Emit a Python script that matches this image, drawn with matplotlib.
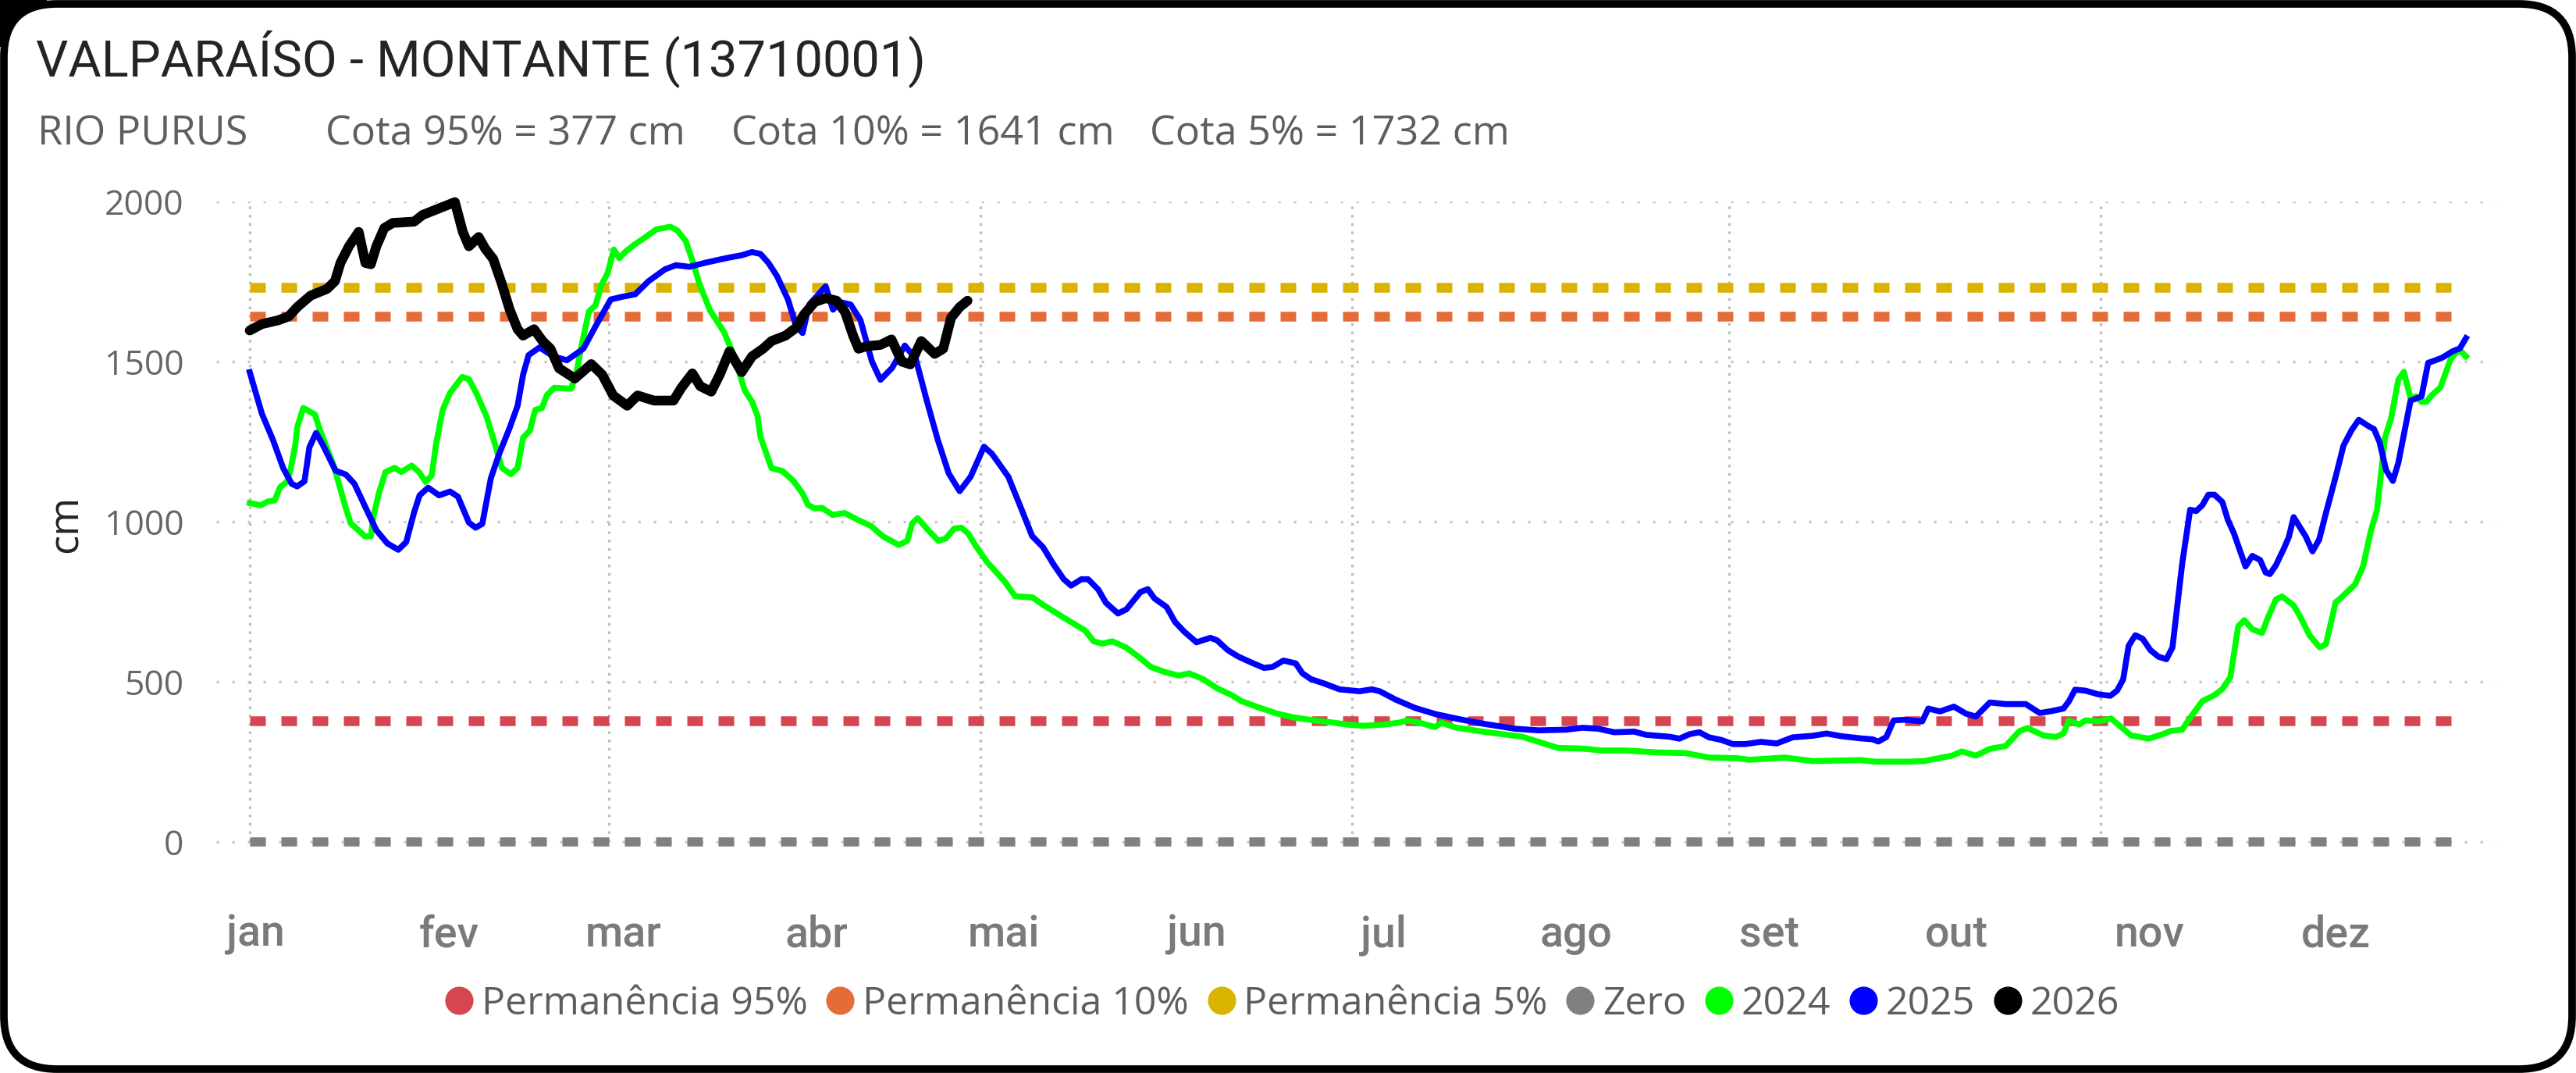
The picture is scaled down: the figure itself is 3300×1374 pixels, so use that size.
import matplotlib
matplotlib.use('Agg')
import matplotlib.pyplot as plt
from matplotlib.lines import Line2D
from matplotlib.patches import FancyBboxPatch, Rectangle
import numpy as np

# station levels (cm)
cota_95 = 377
cota_10 = 1641
cota_5 = 1732
zero = 0

month_labels = ['jan', 'fev', 'mar', 'abr', 'mai', 'jun',
                'jul', 'ago', 'set', 'out', 'nov', 'dez']
month_days = [31, 28, 31, 30, 31, 30, 31, 31, 30, 31, 30, 31]

# day of year (0 = 1 jan) and level in cm
days_2026 = [0, 2, 4.7, 6.4, 7.8, 10, 12.7, 14, 14.9, 16.3, 17.9, 19, 19.9, 20.8, 22.1, 23.5,
             27, 28.4, 33.7, 35, 36, 37.6, 38.7, 40, 41.4, 42.7, 44, 44.9, 46.7, 48.1, 49.4,
             50.8, 53.4, 56.1, 57.9, 59.7, 62, 63.7, 66.4, 69.6, 70.9, 72.7, 74, 75.8, 77.2,
             78.8, 80.8, 82.5, 84.3, 85.7, 88, 89.7, 91, 92.8, 94.6, 96.4, 97.8, 99.1, 100,
             101.3, 103.6, 105.4, 107.1, 108.5, 110.3, 112.5, 113.9, 115.2, 116.6, 117.9]
cm_2026 = [1597, 1617, 1629, 1641, 1670, 1706, 1727, 1751, 1808, 1860, 1905, 1808, 1804, 1860,
           1917, 1933, 1937, 1958, 1998, 1905, 1860, 1889, 1852, 1820, 1743, 1662, 1601, 1581,
           1601, 1564, 1540, 1479, 1447, 1492, 1459, 1394, 1362, 1394, 1378, 1378, 1418, 1463,
           1423, 1406, 1459, 1532, 1467, 1516, 1540, 1564, 1581, 1605, 1646, 1686, 1698, 1690,
           1654, 1581, 1540, 1548, 1552, 1569, 1500, 1491, 1564, 1524, 1540, 1637, 1670, 1690]

days_2025 = [0, 2, 3.8, 5.5, 6.9, 7.8, 9, 9.8, 10.9, 12, 14.1, 15.8, 17.2, 19, 20.8, 22.6, 24.4,
             25.7, 27, 27.9, 29.3, 31.1, 32.9, 34.2, 36, 37.1, 38.2, 39.6, 40.9, 42.7, 44, 44.9,
             45.8, 47.6, 49.9, 52.1, 54.8, 57, 59.3, 61.1, 63.3, 65.5, 68.2, 70, 72.2, 74.9,
             78.5, 80.8, 82.5, 83.9, 85.2, 86.6, 88.4, 89.7, 90.8, 91.9, 94.6, 95.8, 96.9, 98.7,
             100.3, 102.2, 103.6, 105.5, 107.6, 109.4, 111.2, 113, 114.8, 116.6, 118.4, 120.6,
             121.9, 124.6, 126.9, 128.5, 130.3, 132, 133.7, 134.9, 136.6, 137.7, 139.4, 140.6,
             142.6, 144, 146.3, 147.5, 148.6, 150.6, 152, 153.5, 155.5, 157.8, 158.9, 160.6,
             162.3, 164.6, 166.6, 168, 169.8, 171.8, 172.9, 174.3, 176.5, 179, 182.3, 184.3,
             185.6, 188.2, 191.4, 194.7, 198.6, 202.5, 207.8, 211.7, 216.2, 218.9, 221.5, 224.1,
             227.4, 229.3, 233.2, 234.8, 236.5, 238.1, 239.7, 241.7, 243.6, 245.6, 248.2, 250.8,
             253.4, 256.7, 259, 261.3, 264.5, 266.5, 267.5, 268.8, 270, 271.8, 274.7, 275.7,
             277.6, 279.9, 281.9, 283.5, 285.8, 288.4, 291.7, 294, 295.9, 297.9, 298.8, 299.8,
             301.5, 303.7, 305.6, 306.7, 307.7, 308.6, 309.7, 310.9, 312.2, 313.5, 314.8, 315.8,
             317.4, 318.7, 319.7, 320.7, 321.7, 322.7, 324, 324.9, 325.9, 327.8, 328.9, 330.2,
             331.1, 331.8, 332.8, 334.1, 334.9, 335.7, 337.7, 338.8, 339.9, 340.9, 342.6, 343.9,
             345.2, 346.4, 348.1, 348.9, 349.8, 350.9, 352, 352.9, 354.9, 356.7, 357.8, 359,
             360.1, 361.8, 363, 364]
cm_2025 = [1467, 1337, 1256, 1167, 1118, 1110, 1126, 1232, 1277, 1240, 1159, 1147, 1118, 1045,
           973, 932, 912, 936, 1029, 1082, 1106, 1082, 1094, 1078, 997, 981, 993, 1135, 1208,
           1293, 1362, 1459, 1520, 1544, 1516, 1504, 1540, 1617, 1694, 1702, 1710, 1751, 1788,
           1801, 1796, 1809, 1824, 1832, 1842, 1836, 1808, 1767, 1694, 1613, 1589, 1678, 1735,
           1662, 1686, 1678, 1630, 1500, 1443, 1480, 1550, 1508, 1378, 1256, 1151, 1095, 1140,
           1234, 1212, 1140, 1032, 955, 920, 867, 820, 800, 820, 820, 787, 747, 713, 726, 780,
           789, 760, 733, 686, 656, 623, 637, 629, 599, 579, 559, 543, 546, 566, 557, 526, 508,
           494, 476, 470, 476, 470, 444, 418, 399, 383, 369, 353, 348, 350, 356, 353, 342, 344,
           334, 328, 322, 336, 342, 326, 318, 305, 305, 312, 307, 326, 331, 338, 330, 323, 320,
           313, 327, 379, 381, 376, 416, 407, 422, 400, 391, 435, 430, 430, 402, 408, 416, 439,
           475, 472, 460, 456, 472, 507, 612, 645, 634, 598, 578, 570, 607, 869, 1037, 1033,
           1051, 1084, 1084, 1061, 1005, 963, 860, 893, 880, 841, 836, 864, 916, 951, 1014, 953,
           907, 944, 1019, 1140, 1238, 1285, 1318, 1297, 1289, 1249, 1160, 1127, 1184, 1378,
           1391, 1496, 1504, 1512, 1532, 1541, 1573]

days_2024 = [0, 1.8, 3, 4.1, 5, 6.1, 6.7, 7.5, 7.8, 8.8, 10.7, 11.5, 13.8, 14.9, 15.8, 16.6,
             17.8, 18.9, 19.9, 20.3, 21.2, 22.3, 23.8, 24.9, 26.6, 27.8, 28.9, 29.9, 30.6, 31.7,
             32.9, 34.9, 36, 37.2, 38.9, 40.3, 41.4, 42.9, 44, 44.9, 46, 46.9, 48, 48.8, 50, 52.8,
             53.7, 54.5, 55.7, 56.8, 57.7, 58.8, 59.8, 60.7, 61.7, 63.1, 64.8, 66.8, 69.1, 70.2,
             71.6, 72.8, 73.9, 75.6, 77.9, 79.6, 81.3, 82.5, 83.4, 83.9, 85.7, 87.5, 89.3, 90.8,
             91.7, 92.8, 94, 95.7, 97.7, 99.7, 102, 104, 106.6, 108, 108.8, 109.7, 111.4, 113.1,
             114.3, 115.7, 116.9, 118, 119.4, 121.1, 124, 125.7, 128.6, 130.3, 132, 134.9, 137.2,
             138.6, 140, 141.7, 144, 146.3, 148, 150.3, 152.6, 154.3, 156.6, 158.9, 161.2, 162.9,
             165.8, 168.6, 171.5, 174.9, 178, 180.3, 183, 186.2, 188.8, 190.1, 192.1, 194.7,
             195.7, 198, 202.5, 209, 214.9, 218.9, 222.1, 226, 231.2, 235.8, 239.7, 244.3, 246.3,
             252.1, 256.7, 264.5, 267.1, 272.4, 275, 279.6, 281.2, 283.5, 285.8, 288.4, 290.7,
             292, 294.6, 296.6, 297.9, 298.8, 300.5, 301.5, 303.7, 305.7, 307, 309, 311.9, 314.2,
             315.5, 317.4, 318.4, 320.7, 322.7, 324, 325.3, 326.6, 327.6, 328.9, 330.5, 331.5,
             332.8, 333.8, 335.7, 336.7, 338.3, 340, 341, 342.6, 343.2, 345.8, 347.1, 348.4,
             349.4, 350.7, 351.7, 352.9, 353.8, 354.9, 355.8, 356.7, 357.5, 358.4, 359.8, 361.5,
             362.4, 363.2, 364]
cm_2024 = [1058, 1051, 1063, 1066, 1108, 1124, 1161, 1241, 1295, 1355, 1335, 1288, 1175, 1101,
           1041, 994, 974, 954, 954, 1014, 1088, 1155, 1168, 1155, 1175, 1155, 1124, 1145, 1241,
           1349, 1402, 1452, 1445, 1402, 1328, 1241, 1168, 1148, 1168, 1262, 1284, 1349, 1355,
           1395, 1418, 1415, 1469, 1549, 1656, 1676, 1736, 1777, 1850, 1823, 1843, 1864, 1886,
           1913, 1921, 1910, 1877, 1810, 1740, 1660, 1592, 1516, 1410, 1375, 1330, 1264, 1167,
           1158, 1127, 1088, 1052, 1041, 1043, 1021, 1027, 1007, 987, 954, 927, 940, 994, 1011,
           974, 940, 947, 978, 981, 963, 920, 874, 813, 767, 763, 740, 720, 686, 660, 626, 619,
           626, 606, 573, 546, 530, 519, 526, 508, 479, 459, 439, 419, 401, 388, 379, 372, 366,
           362, 366, 372, 379, 372, 358, 372, 357, 344, 328, 293, 291, 285, 285, 279, 277, 263,
           261, 256, 263, 252, 255, 250, 250, 252, 269, 282, 269, 290, 299, 346, 355, 332, 327,
           338, 379, 366, 379, 376, 385, 364, 332, 322, 336, 346, 350, 379, 439, 458, 477, 514,
           673, 692, 664, 652, 701, 757, 766, 738, 706, 645, 607, 617, 748, 757, 804, 860, 972,
           1037, 1262, 1322, 1443, 1468, 1386, 1391, 1374, 1374, 1395, 1419, 1508, 1528, 1532,
           1516]

ref_names = ['Permanência 95%', 'Permanência 10%', 'Permanência 5%', 'Zero']
ref_values = [cota_95, cota_10, cota_5, zero]
ref_colors = ['#D64550', '#E66C37', '#D9B300', '#808080']
year_names = ['2024', '2025', '2026']
year_colors = ['#00FF00', '#0000FF', '#000000']

W, H = 3300, 1374
fig = plt.figure(figsize=(W / 100, H / 100), dpi=100)
fig.patch.set_facecolor('white')

# rounded card border (behind the axes)
fig.add_artist(Rectangle((0, H / 100 - 0.6), 0.6, 0.6, transform=fig.dpi_scale_trans,
                         fc='black', ec='none', zorder=-2))
fig.add_artist(FancyBboxPatch((0.05, 0.05), W / 100 - 0.1, H / 100 - 0.1,
                              boxstyle='round,pad=0,rounding_size=0.68',
                              transform=fig.dpi_scale_trans, fc='white', ec='black',
                              lw=7, zorder=-1))

ax = fig.add_axes([277 / W, 1 - 1084 / H, (3198 - 277) / W, (1084 - 258) / H])
ax.set_facecolor('none')
ax.set_xlim(-5.5, 369)
ax.set_ylim(-15, 2000)
for s in ax.spines.values():
    s.set_visible(False)

month_start = np.concatenate([[0], np.cumsum(month_days)[:-1]])

# grid
for v in [0, 500, 1000, 1500, 2000]:
    ax.axhline(v, color='#C8C8C8', lw=2.4, ls=(0, (1, 5)), zorder=1)
for d in month_start[::2]:
    ax.plot([d, d], [0, 2000], color='#BDBDBD', lw=2.4, ls=(0, (1, 2.2)), zorder=1)

# reference levels
for v, c in zip(ref_values, ref_colors):
    ax.hlines(v, 0, 364, color=c, lw=9, linestyles=[(0, (1.6, 1.6))], zorder=2)

ax.plot(days_2024, cm_2024, color=year_colors[0], lw=5.5, zorder=3, clip_on=False,
        solid_joinstyle='round')
ax.plot(days_2025, cm_2025, color=year_colors[1], lw=5.5, zorder=4, clip_on=False,
        solid_joinstyle='round')
ax.plot(days_2026, cm_2026, color=year_colors[2], lw=9, zorder=5, clip_on=False,
        solid_joinstyle='round', solid_capstyle='round')

ax.set_yticks([0, 500, 1000, 1500, 2000])
ax.tick_params(axis='y', length=0, pad=30, labelsize=32, labelcolor='#666666')
for lbl in ax.get_yticklabels():
    lbl.set_fontfamily('Open Sans')

label_pos = [s + 1 + 0.7 * i for i, s in enumerate(month_start)]
ax.set_xticks(label_pos)
ax.set_xticklabels(month_labels)
ax.tick_params(axis='x', length=0, pad=62, labelsize=40, labelcolor='#7A7A7A')
for lbl in ax.get_xticklabels():
    lbl.set_fontfamily('Roboto')
    lbl.set_fontweight('medium')

ax.text(-0.0657, 0.5, 'cm', transform=ax.transAxes, rotation=90, ha='center', va='center',
        fontsize=38, color='#252423', family='Open Sans')

# titles
fig.text(46 / W, 1 - 97 / H, 'VALPARAÍSO - MONTANTE (13710001)', fontsize=46.8,
         family='Roboto', color='#252423', va='baseline')
sub_parts = ['RIO PURUS', f'Cota 95% = {cota_95} cm', f'Cota 10% = {cota_10} cm',
             f'Cota 5% = {cota_5} cm']
for xp, t in zip([48, 417, 937, 1473], sub_parts):
    fig.text(xp / W, 1 - 185 / H, t, fontsize=37.5, family='Open Sans', color='#605E5C',
             va='baseline')

# legend
handles = [Line2D([], [], ls='none', marker='o', ms=26, mfc=c, mec='none')
           for c in ref_colors + year_colors]
leg = fig.legend(handles, ref_names + year_names, loc='center', ncol=7,
                 bbox_to_anchor=(0.4976, 1 - 1286 / H), frameon=False,
                 prop={'family': 'Open Sans', 'size': 36},
                 handlelength=0.75, handletextpad=0.2, columnspacing=0.46,
                 borderaxespad=0, borderpad=0)
for t in leg.get_texts():
    t.set_color('#605E5C')

fig.savefig('out.png', dpi=100, facecolor='white')
